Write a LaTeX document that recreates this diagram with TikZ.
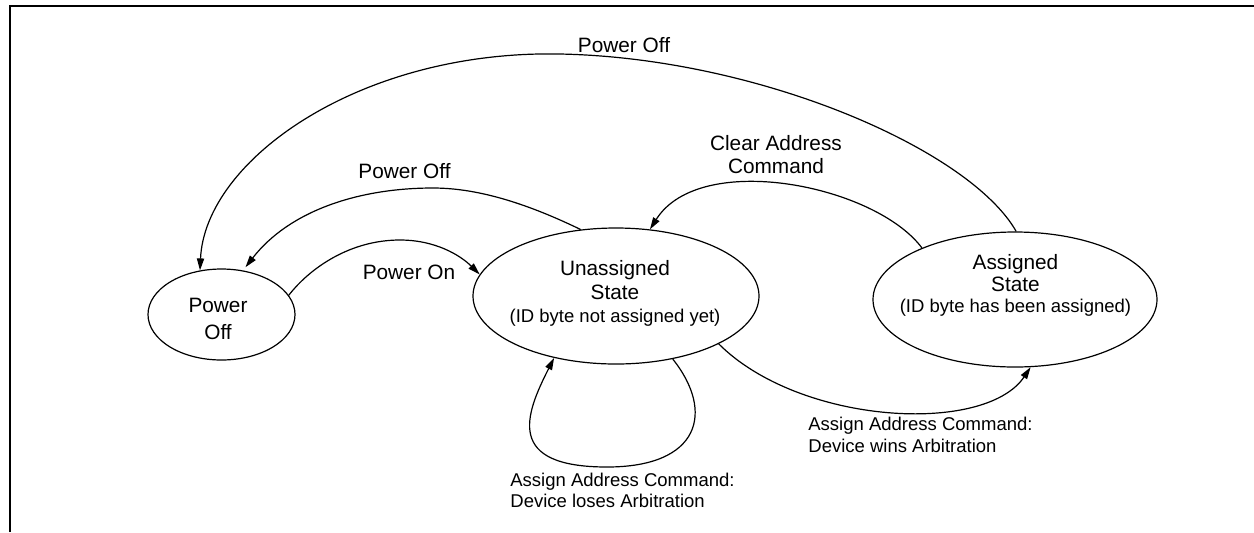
\documentclass[tikz,border=0pt]{standalone}
\usepackage{fontspec}
\setmainfont{Liberation Sans}
\usetikzlibrary{arrows.meta,shapes.geometric}
\begin{document}
\begin{tikzpicture}[x=0.5pt,y=-0.5pt,
  state/.style={ellipse,draw,line width=0.6pt,inner sep=0pt},
  main/.style={font=\fontsize{10.4}{12}\selectfont,inner sep=0pt},
  small/.style={font=\fontsize{9.25}{11}\selectfont,inner sep=0pt},
  arr/.style={line width=0.6pt,-{Triangle[length=6pt,width=3.6pt]}}]
\useasboundingbox (0,0) rectangle (1254,532);
\draw[line width=1.1pt] (10.3,532) -- (10.3,5.7) -- (1254,5.7);

% states
\node[state,minimum width=73.5pt,minimum height=45.5pt] (po) at (221.5,314.5) {};
\node[state,minimum width=143pt,minimum height=68pt] (un) at (616,296) {};
\node[state,minimum width=142pt,minimum height=67.5pt] (as) at (1015,299.5) {};

% state texts
\node[main,anchor=base] (poT1) at (218,312) {Power};
\node[main,anchor=base] (poT2) at (218,339) {Off};
\node[main,anchor=base] (unT1) at (615,275) {Unassigned};
\node[main,anchor=base] (unT2) at (615,299) {State};
\node[small,anchor=base] (unT3) at (615,322) {(ID byte not assigned yet)};
\node[main,anchor=base] (asT1) at (1015.5,269) {Assigned};
\node[main,anchor=base] (asT2) at (1015.5,291) {State};
\node[small,anchor=base] (asT3) at (1015.5,312) {(ID byte has been assigned)};

% labels
\node[main,anchor=base] (lblOffTop) at (624,52) {Power Off};
\node[main,anchor=base] (lblOffMid) at (404.5,178) {Power Off};
\node[main,anchor=base] (lblOn) at (409,279) {Power On};
\node[main,anchor=base] (lblClr1) at (776,150) {Clear Address};
\node[main,anchor=base] (lblClr2) at (776,173) {Command};
\node[small,anchor=base west] (lblWin1) at (808,430) {Assign Address Command:};
\node[small,anchor=base west] (lblWin2) at (808,452) {Device wins Arbitration};
\node[small,anchor=base west] (lblLose1) at (510,486) {Assign Address Command:};
\node[small,anchor=base west] (lblLose2) at (510,507) {Device loses Arbitration};

% connectors
\draw[arr] (as.89) .. controls (970,150) and (760,58) .. (560,54)
                   .. controls (360,50) and (205,160) .. (po.116);
\draw[arr,shorten >=2pt] (un.118) .. controls (530,205) and (480,188) .. (433,188)
                   .. controls (360,188) and (290,210) .. (po.64);
\draw[arr] (po.16) .. controls (310,268) and (350,240) .. (400,240)
                   .. controls (435,240) and (460,255) .. (un.171);
\draw[arr] (as.151) .. controls (875,185) and (700,150) .. (un.63);
\draw[arr] (un.312) .. controls (715,412) and (700,467) .. (607,467)
                    .. controls (505,467) and (525,415) .. (un.225);
\draw[arr] (un.335) .. controls (800,425) and (985,435) .. (as.283);
\end{tikzpicture}
\end{document}
